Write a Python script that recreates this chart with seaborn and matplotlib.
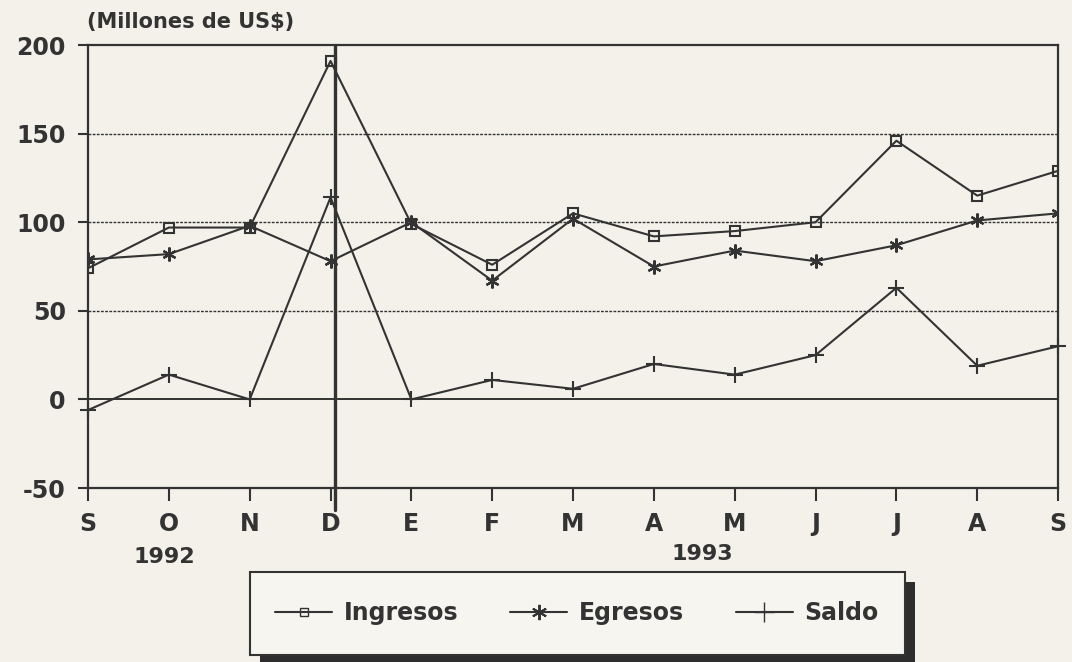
import numpy as np
import pandas as pd
import matplotlib
matplotlib.use("Agg")
import matplotlib.pyplot as plt
from matplotlib.patches import Rectangle
from matplotlib.lines import Line2D
import seaborn as sns

# valores (millones de US$)
meses = ['S', 'O', 'N', 'D', 'E', 'F', 'M', 'A', 'M', 'J', 'J', 'A', 'S']
ingresos = [74, 97, 97, 191, 99, 76, 105, 92, 95, 100, 146, 115, 129]
egresos = [79, 82, 98, 78, 100, 67, 102, 75, 84, 78, 87, 101, 105]
saldo = [-6, 14, 0, 114, 0, 11, 6, 20, 14, 25, 63, 19, 30]
yticks = [-50, 0, 50, 100, 150, 200]

paper = '#f3f1ea'
ink = '#333333'

sns.set_theme(style="white")
plt.rcParams['font.family'] = ['DejaVu Sans']
plt.rcParams['font.weight'] = 'bold'
plt.rcParams['axes.unicode_minus'] = False

df = pd.DataFrame({'pos': np.arange(len(meses)), 'mes': meses,
                   'Ingresos': ingresos, 'Egresos': egresos, 'Saldo': saldo})

fig = plt.figure(figsize=(10.72, 6.62), dpi=100, facecolor=paper)
ax = fig.add_axes([0.0821, 0.2628, 0.9049, 0.6692])
ax.set_facecolor(paper)

# lineas de grilla
for v in [50, 100, 150]:
    ax.axhline(v, color=ink, lw=1.0, ls=(0, (2, 1)), zorder=1)
ax.axhline(0, color=ink, lw=1.4, zorder=1)

sns.lineplot(data=df, x='pos', y='Ingresos', ax=ax, color=ink, lw=1.5,
             marker='s', markersize=7.5, markerfacecolor='none',
             markeredgecolor=ink, markeredgewidth=1.5, zorder=3)
sns.lineplot(data=df, x='pos', y='Egresos', ax=ax, color=ink, lw=1.5,
             marker=(6, 2, 0), markersize=10, markeredgecolor=ink,
             markeredgewidth=1.6, zorder=3)
sns.lineplot(data=df, x='pos', y='Saldo', ax=ax, color=ink, lw=1.5,
             marker='+', markersize=12, markeredgecolor=ink,
             markeredgewidth=1.5, zorder=3, clip_on=False)

# linea vertical en diciembre
ax.axvline(3.05, ymin=-0.05, ymax=1.0, color=ink, lw=2.4, clip_on=False, zorder=4)

ax.set_xlim(0, 12)
ax.set_ylim(-50, 200)
ax.set_xticks(df['pos'])
ax.set_xticklabels(meses)
ax.set_yticks(yticks)
ax.set_xlabel('')
ax.set_ylabel('')
for s in ax.spines.values():
    s.set_color(ink)
    s.set_linewidth(1.6)
ax.tick_params(axis='y', direction='out', length=7, width=1.5, color=ink,
               pad=9, labelsize=17, labelcolor=ink, left=True)
ax.tick_params(axis='x', direction='out', length=9, width=1.5, color=ink,
               pad=8, labelsize=17, labelcolor=ink, bottom=True)
for lab in ax.get_xticklabels() + ax.get_yticklabels():
    lab.set_fontweight('bold')

fig.text(0.081, 0.967, '(Millones de US$)', fontsize=15, fontweight='bold',
         color=ink, ha='left', va='center')
fig.text(0.153, 0.158, '1992', fontsize=16, fontweight='bold', color=ink,
         ha='center', va='center')
fig.text(0.655, 0.163, '1993', fontsize=16, fontweight='bold', color=ink,
         ha='center', va='center')

# caja de la leyenda con sombra
fig.patches.append(Rectangle((260 / 1072, 1 - 665 / 662), 655 / 1072, 83 / 662,
                             transform=fig.transFigure, facecolor='#2e2e2e',
                             edgecolor='none', zorder=0))
fig.patches.append(Rectangle((250 / 1072, 1 - 655 / 662), 655 / 1072, 83 / 662,
                             transform=fig.transFigure, facecolor='#f6f5f0',
                             edgecolor=ink, lw=1.5, zorder=1))
handles = [
    Line2D([], [], color=ink, lw=1.5, marker='s', markersize=6,
           markerfacecolor='none', markeredgecolor=ink),
    Line2D([], [], color=ink, lw=1.5, marker=(6, 2, 0), markersize=11,
           markeredgecolor=ink, markeredgewidth=1.4),
    Line2D([], [], color=ink, lw=1.5, marker='+', markersize=14,
           markeredgecolor=ink),
]
leg = fig.legend(handles, ['Ingresos', 'Egresos', 'Saldo'], loc='center',
                 bbox_to_anchor=(577 / 1072, 1 - 613 / 662), ncol=3,
                 frameon=False, fontsize=17, handlelength=2.4,
                 columnspacing=2.2, handletextpad=0.5)
for t in leg.get_texts():
    t.set_color(ink)
    t.set_fontweight('bold')

fig.savefig('out.png', dpi=100, facecolor=paper)
